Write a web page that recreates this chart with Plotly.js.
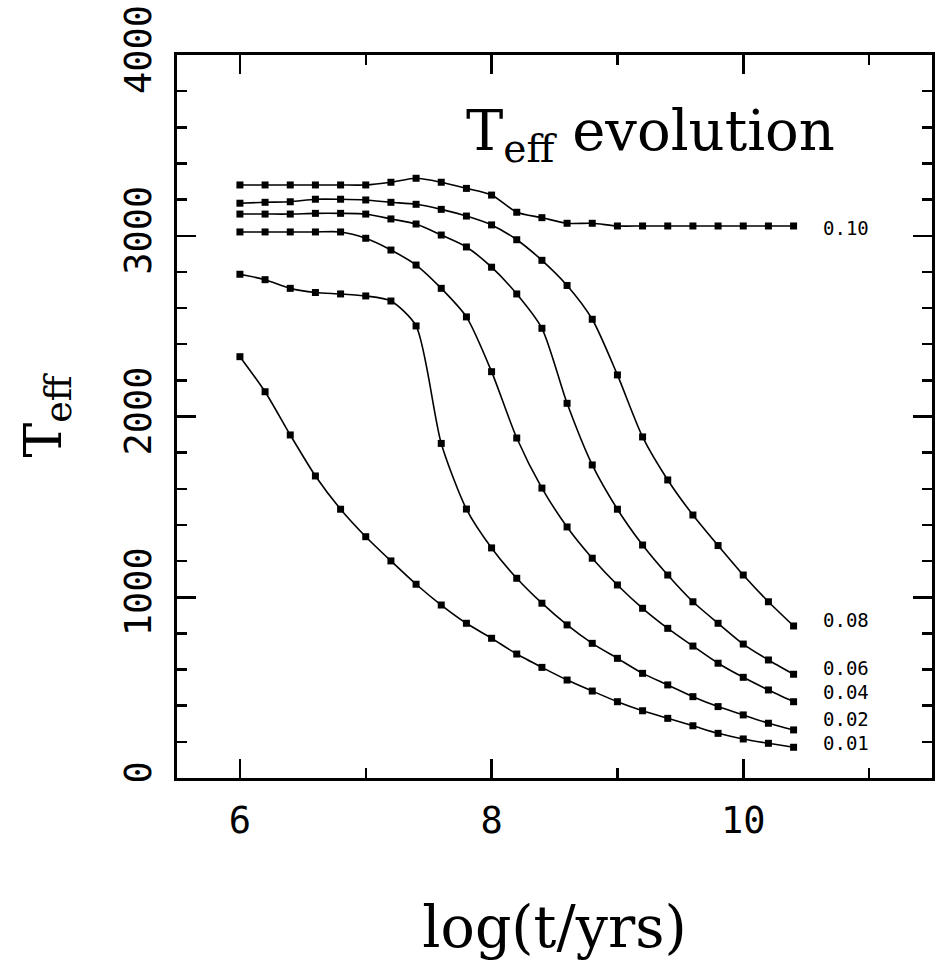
<!DOCTYPE html>
<html>
<head>
<meta charset="utf-8">
<script src="https://cdn.plot.ly/plotly-3.0.1.min.js"></script>
<style>html,body{margin:0;padding:0;background:#fff;}#chart{width:938px;height:960px;}</style>
</head>
<body>
<div id="chart"></div>
<script>
// log(t/yrs) sample points
const logT = [6.0,6.2,6.4,6.6,6.8,7.0,7.2,7.4,7.6,7.8,8.0,8.2,8.4,8.6,8.8,9.0,9.2,9.4,9.6,9.8,10.0,10.2,10.4];

// Teff series, labelled by mass
const teff010 = [3281,3281,3281,3281,3281,3281,3296,3318,3296,3262,3225,3130,3100,3069,3069,3054,3054,3054,3054,3054,3054,3054,3054];
const teff008 = [3180,3185,3188,3202,3202,3198,3185,3174,3146,3109,3060,2978,2864,2725,2538,2230,1887,1649,1455,1286,1123,975,841];
const teff006 = [3120,3120,3120,3124,3124,3120,3093,3065,3004,2938,2826,2678,2488,2073,1732,1487,1289,1123,975,856,741,653,574];
const teff004 = [3021,3021,3021,3021,3021,2986,2921,2838,2709,2551,2248,1881,1604,1389,1216,1068,939,828,730,635,557,487,422];
const teff002 = [2787,2757,2709,2686,2678,2667,2639,2501,1851,1488,1273,1105,967,847,745,662,579,515,450,395,349,303,266];
const teff001 = [2331,2137,1898,1671,1487,1335,1201,1072,957,856,773,686,612,542,481,422,372,330,289,247,216,192,170];

const seriesLabels = ["0.10","0.08","0.06","0.04","0.02","0.01"];
const labelY = [3041,874,611,476,328,196];
const labelX = 10.82;

const xTickVals = [6,8,10];
const xTickText = ["6","8","10"];
const yTickVals = [0,1000,2000,3000,4000];
const yTickText = ["0","1000","2000","3000","4000"];

const allSeries = [teff010,teff008,teff006,teff004,teff002,teff001];

const traces = allSeries.map((ys,i)=>({
  x: logT, y: ys, type:'scatter', mode:'lines+markers',
  name: seriesLabels[i],
  line:{color:'#000', width:1.6, shape:'spline', smoothing:0.7},
  marker:{symbol:'square', size:7, color:'#000'},
  showlegend:false, hoverinfo:'skip'
}));

const annotations = seriesLabels.map((t,i)=>({
  x: labelX, y: labelY[i], xref:'x', yref:'y', text:t, showarrow:false,
  xanchor:'center', yanchor:'middle', borderpad:0,
  font:{family:'DejaVu Sans Mono', size:19, color:'#000'}
}));
annotations.push({
  x: 9.26, y: 3560, xref:'x', yref:'y', text:'T<sub>eff</sub> evolution', showarrow:false,
  xanchor:'center', yanchor:'middle',
  font:{family:'DejaVu Serif', size:56, color:'#000'}
});

const axCommon = {
  showline:true, linecolor:'#000', linewidth:3, mirror:'allticks',
  ticks:'inside', tickcolor:'#000', tickwidth:2.5, ticklen:19,
  showgrid:false, zeroline:false,
  tickfont:{family:'DejaVu Sans Mono', size:37, color:'#000'}
};

const layout = {
  width:938, height:960,
  margin:{l:177, r:6, t:55, b:182},
  paper_bgcolor:'#fff', plot_bgcolor:'#fff',
  xaxis: Object.assign({}, axCommon, {
    range:[5.5,11.5], tickmode:'array', tickvals:xTickVals, ticktext:xTickText,
    minor:{dtick:1, tick0:0, ticks:'inside', ticklen:10, tickwidth:2.5, tickcolor:'#000'},
    ticklabelstandoff:8,
    title:{text:'log(t/yrs)', font:{family:'DejaVu Serif', size:57, color:'#000'}, standoff:70}
  }),
  yaxis: Object.assign({}, axCommon, {
    range:[0,4000], tickmode:'array', tickvals:yTickVals, ticktext:yTickText,
    tickangle:-90,
    minor:{dtick:200, tick0:0, ticks:'inside', ticklen:10, tickwidth:2.5, tickcolor:'#000'},
    ticklabelstandoff:8,
    title:{text:'T<sub>eff</sub>', font:{family:'DejaVu Serif', size:52, color:'#000'}, standoff:40}
  }),
  annotations: annotations
};

Plotly.newPlot('chart', traces, layout, {displayModeBar:false, staticPlot:true});
</script>
</body>
</html>
